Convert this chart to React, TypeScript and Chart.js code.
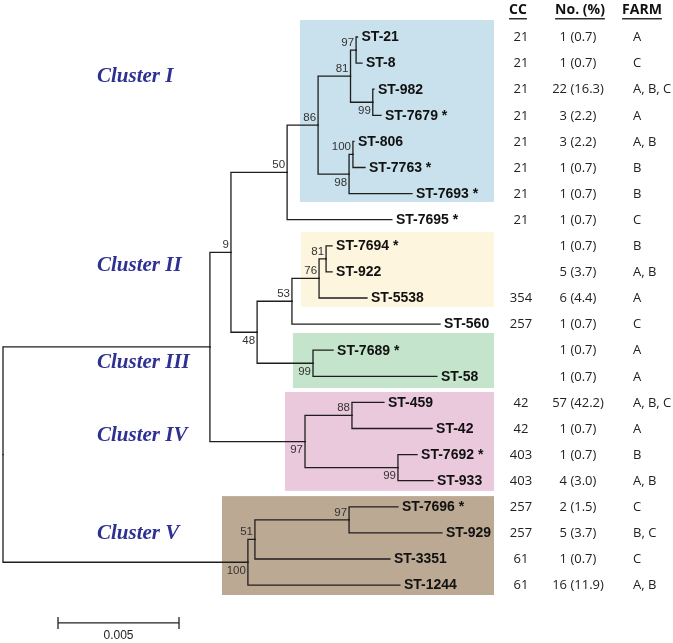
import React, { useEffect, useRef } from 'react';
import { Chart, registerables } from 'chart.js';

Chart.register(...registerables);

// ---------------- data ----------------
const leafNames = [
  'ST-21', 'ST-8', 'ST-982', 'ST-7679 *', 'ST-806', 'ST-7763 *', 'ST-7693 *', 'ST-7695 *',
  'ST-7694 *', 'ST-922', 'ST-5538', 'ST-560', 'ST-7689 *', 'ST-58',
  'ST-459', 'ST-42', 'ST-7692 *', 'ST-933', 'ST-7696 *', 'ST-929', 'ST-3351', 'ST-1244',
];
// distance of each leaf tip from the root (substitutions per site)
const leafDepths = [
  0.01465, 0.014835, 0.01533, 0.01562, 0.0145, 0.01496, 0.0169, 0.01607,
  0.0136, 0.0136, 0.01504, 0.01806, 0.01364, 0.01793,
  0.01574, 0.01773, 0.01711, 0.01777, 0.01632, 0.01814, 0.01599, 0.0164,
];
const ccValues = [
  '21', '21', '21', '21', '21', '21', '21', '21',
  '', '', '354', '257', '', '',
  '42', '42', '403', '403', '257', '257', '61', '61',
];
const isolateCounts = [
  '1 (0.7)', '1 (0.7)', '22 (16.3)', '3 (2.2)', '3 (2.2)', '1 (0.7)', '1 (0.7)', '1 (0.7)',
  '1 (0.7)', '5 (3.7)', '6 (4.4)', '1 (0.7)', '1 (0.7)', '1 (0.7)',
  '57 (42.2)', '1 (0.7)', '1 (0.7)', '4 (3.0)', '2 (1.5)', '5 (3.7)', '1 (0.7)', '16 (11.9)',
];
const farmLabels = [
  'A', 'C', 'A, B, C', 'A', 'A, B', 'B', 'B', 'C',
  'B', 'A, B', 'A', 'C', 'A', 'A',
  'A, B, C', 'A', 'B', 'A, B', 'C', 'B, C', 'C', 'A, B',
];

// internal nodes
const nodeKeys = [
  'N-root', 'N-a', 'N-b', 'N-c', 'N-d', 'N-e', 'N-f', 'N-g', 'N-h', 'N-i',
  'N-j', 'N-k', 'N-l', 'N-m', 'N-n', 'N-o', 'N-p', 'N-q', 'N-r', 'N-s', 'N-t',
];
const nodeDepths = [
  0, 0.00855, 0.00942, 0.01174, 0.01302, 0.01436, 0.01459, 0.01528, 0.0143, 0.01446,
  0.0105, 0.01194, 0.01306, 0.01335, 0.01281, 0.01248, 0.01442, 0.01632, 0.01012, 0.01041, 0.0143,
];
const nodeSupport = [
  null, null, 9, 50, 86, 81, 97, 99, 98, 100,
  48, 53, 76, 81, 99, 97, 88, 99, 100, 51, 97,
];
const nodeChildren = [
  ['N-a', 'N-r'],
  ['N-b', 'N-o'],
  ['N-c', 'N-j'],
  ['N-d', 'ST-7695 *'],
  ['N-e', 'N-h'],
  ['N-f', 'N-g'],
  ['ST-21', 'ST-8'],
  ['ST-982', 'ST-7679 *'],
  ['N-i', 'ST-7693 *'],
  ['ST-806', 'ST-7763 *'],
  ['N-k', 'N-n'],
  ['N-l', 'ST-560'],
  ['N-m', 'ST-5538'],
  ['ST-7694 *', 'ST-922'],
  ['ST-7689 *', 'ST-58'],
  ['N-p', 'N-q'],
  ['ST-459', 'ST-42'],
  ['ST-7692 *', 'ST-933'],
  ['N-s', 'ST-1244'],
  ['N-t', 'ST-3351'],
  ['ST-7696 *', 'ST-929'],
];

const clusterNames = ['Cluster I', 'Cluster II', 'Cluster III', 'Cluster IV', 'Cluster V'];
const columnHeaders = ['CC', 'No. (%)', 'FARM'];
const scaleBarLength = 0.005;
const scaleBarLabel = '0.005';

// ---------------- layout / style ----------------
const supportSide = [
  '', '', 'a', 'a', 'a', 'a', 'a', 'b', 'b', 'a',
  'b', 'a', 'a', 'a', 'b', 'b', 'a', 'b', 'b', 'a', 'a',
];
// [x-left (distance), x-right (distance), top row, bottom row]
const clusterBoxes = [
  [0.01227, 0.02029, -0.65, 6.32],
  [0.01231, 0.02029, 7.47, 10.34],
  [0.01198, 0.02029, 11.34, 13.45],
  [0.01165, 0.02029, 13.6, 17.39],
  [0.00905, 0.02029, 17.59, 21.38],
];
const clusterColors = ['#c9e1ec', '#fdf5dd', '#c4e4cb', '#ebc9dc', '#bca994'];
const clusterLabelRows = [1.53, 8.74, 12.49, 15.29, 19.04];
const X_MIN = -3 / 24200;
const X_MAX = X_MIN + 673 / 24200;
const ROW_PX = 26.1;
const Y_MIN = -37 / ROW_PX;
const Y_MAX = Y_MIN + 643 / ROW_PX;

function layoutTree() {
  const pos: Record<string, { x: number; y: number }> = {};
  leafNames.forEach((n, i) => {
    pos[n] = { x: leafDepths[i], y: i };
  });
  const place = (key: string): { x: number; y: number } => {
    if (pos[key]) return pos[key];
    const idx = nodeKeys.indexOf(key);
    const ys = nodeChildren[idx].map((c) => place(c).y);
    pos[key] = { x: nodeDepths[idx], y: (Math.min(...ys) + Math.max(...ys)) / 2 };
    return pos[key];
  };
  place('N-root');
  return pos;
}

export default function App() {
  const ref = useRef<HTMLCanvasElement | null>(null);

  useEffect(() => {
    const canvas = ref.current;
    if (!canvas) return;
    const pos = layoutTree();

    const datasets: any[] = [];
    nodeKeys.forEach((key, i) => {
      const p = pos[key];
      nodeChildren[i].forEach((c) => {
        const q = pos[c];
        datasets.push({
          data: [
            { x: p.x, y: p.y },
            { x: p.x, y: q.y },
            { x: q.x, y: q.y },
          ],
          showLine: true,
          borderColor: '#1e1e1e',
          borderWidth: 1.3,
          pointRadius: 0,
          pointHoverRadius: 0,
          fill: false,
          tension: 0,
          borderJoinStyle: 'miter',
          borderCapStyle: 'square',
        });
      });
    });

    const treePlugin = {
      id: 'treeDecor',
      beforeDatasetsDraw(chart: any) {
        const { ctx, scales } = chart;
        const xs = scales.x;
        const ys = scales.y;
        ctx.save();
        clusterBoxes.forEach((b, i) => {
          const x0 = xs.getPixelForValue(b[0]);
          const x1 = xs.getPixelForValue(b[1]);
          const y0 = ys.getPixelForValue(b[2]);
          const y1 = ys.getPixelForValue(b[3]);
          ctx.fillStyle = clusterColors[i];
          ctx.fillRect(x0, y0, x1 - x0, y1 - y0);
        });
        ctx.restore();
      },
      afterDatasetsDraw(chart: any) {
        const { ctx, scales, chartArea } = chart;
        const xs = scales.x;
        const ys = scales.y;
        const L = chartArea.left;
        ctx.save();

        // leaf labels
        ctx.fillStyle = '#111';
        ctx.font = 'bold 14px "Liberation Sans", Arial, sans-serif';
        ctx.textBaseline = 'middle';
        ctx.textAlign = 'left';
        leafNames.forEach((n, i) => {
          ctx.fillText(n, xs.getPixelForValue(leafDepths[i]) + 4, ys.getPixelForValue(i) + 0.5);
        });

        // bootstrap values
        ctx.font = '11.5px "Liberation Sans", Arial, sans-serif';
        ctx.fillStyle = '#333';
        ctx.textAlign = 'right';
        nodeKeys.forEach((key, i) => {
          const s = nodeSupport[i];
          if (s === null) return;
          const p = pos[key];
          const px = xs.getPixelForValue(p.x) - 2;
          const py = ys.getPixelForValue(p.y) + (supportSide[i] === 'a' ? -7.5 : 8.5);
          ctx.fillText(String(s), px, py);
        });

        // cluster labels
        ctx.font = 'italic bold 21px "Liberation Serif", "Times New Roman", serif';
        ctx.fillStyle = '#2e3192';
        ctx.textAlign = 'left';
        clusterNames.forEach((n, i) => {
          ctx.fillText(n, L + 97, ys.getPixelForValue(clusterLabelRows[i]));
        });

        // column headers
        const colX = [L + 518, L + 580, L + 642];
        ctx.font = 'bold 14px "Open Sans", sans-serif';
        ctx.fillStyle = '#111';
        ctx.textAlign = 'center';
        const hy = ys.getPixelForValue(-1.03);
        columnHeaders.forEach((h, i) => {
          ctx.fillText(h, colX[i], hy);
          const w = ctx.measureText(h).width;
          ctx.fillRect(colX[i] - w / 2, hy + 8, w, 1.3);
        });

        // column values
        ctx.font = '13px "Open Sans", sans-serif';
        ctx.fillStyle = '#222';
        leafNames.forEach((_, i) => {
          const y = ys.getPixelForValue(i) + 0.5;
          ctx.textAlign = 'center';
          if (ccValues[i]) ctx.fillText(ccValues[i], L + 521, y);
          ctx.fillText(isolateCounts[i], L + 578, y);
          ctx.textAlign = 'left';
          ctx.fillText(farmLabels[i], L + 633, y);
        });

        // scale bar
        const sx0 = xs.getPixelForValue(0.002273);
        const sx1 = xs.getPixelForValue(0.002273 + scaleBarLength);
        const sy = ys.getPixelForValue(22.45);
        ctx.strokeStyle = '#222';
        ctx.lineWidth = 1.3;
        ctx.beginPath();
        ctx.moveTo(sx0, sy);
        ctx.lineTo(sx1, sy);
        ctx.moveTo(sx0, sy - 6);
        ctx.lineTo(sx0, sy + 6);
        ctx.moveTo(sx1, sy - 6);
        ctx.lineTo(sx1, sy + 6);
        ctx.stroke();
        ctx.font = '12px "Liberation Sans", Arial, sans-serif';
        ctx.fillStyle = '#222';
        ctx.textAlign = 'center';
        ctx.fillText(scaleBarLabel, (sx0 + sx1) / 2, sy + 13);

        ctx.restore();
      },
    };

    const chart = new Chart(canvas, {
      type: 'scatter',
      data: { datasets },
      options: {
        animation: false,
        responsive: false,
        devicePixelRatio: 1,
        layout: { padding: 0 },
        events: [],
        plugins: { legend: { display: false }, tooltip: { enabled: false } },
        scales: {
          x: { type: 'linear', display: false, min: X_MIN, max: X_MAX },
          y: { type: 'linear', display: false, reverse: true, min: Y_MIN, max: Y_MAX },
        },
      },
      plugins: [treePlugin],
    } as any);

    return () => chart.destroy();
  }, []);

  return (
    <div style={{ position: 'fixed', left: 0, top: 0, width: 673, height: 643, background: '#fff' }}>
      <canvas ref={ref} width={673} height={643} style={{ display: 'block' }} />
    </div>
  );
}
